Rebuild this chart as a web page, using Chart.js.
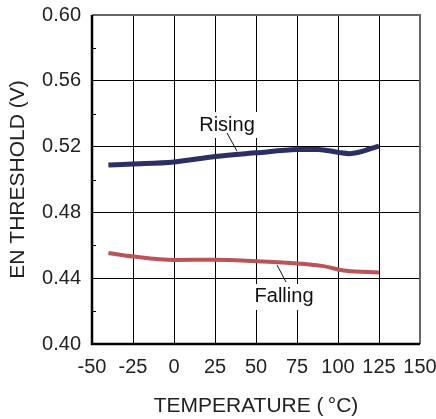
<!DOCTYPE html>
<html>
<head>
<meta charset="utf-8">
<script src="https://cdn.jsdelivr.net/npm/chart.js@4"></script>
<style>
  html, body { margin: 0; padding: 0; background: #fff; }
  #wrap { width: 436px; height: 419px; }
</style>
</head>
<body>
<div id="wrap"><canvas id="chart" width="436" height="419"></canvas></div>
<script>
// values
const risingTemp = [-40, -25, 0, 25, 50, 75, 88, 100, 107, 125];
const risingVolt = [0.5088, 0.5094, 0.5107, 0.5140, 0.5162, 0.5182, 0.5183, 0.5165, 0.5157, 0.5203];
const fallingTemp = [-40, -25, 0, 25, 50, 75, 90, 105, 125];
const fallingVolt = [0.4553, 0.4532, 0.4511, 0.4512, 0.4503, 0.4490, 0.4475, 0.4445, 0.4435];

const xTicks = [-50, -25, 0, 25, 50, 75, 100, 125, 150];
const yMin = 0.40, yMax = 0.60;

// curve labels: text position and leader line, in data units
const curveLabels = [
    { text: 'Rising', x: 32.3, y: 0.5331, from: [32.3, 0.5283], to: [38.4, 0.5173] },
    { text: 'Falling', x: 67.1, y: 0.4286, from: [68.3, 0.4377], to: [62.8, 0.4480] }
];

const font = 'Liberation Sans, Arial, Helvetica, sans-serif';

const toPoints = (xs, ys) => xs.map((x, i) => ({ x: x, y: ys[i] }));

// short tick marks at 0.02 steps, frame and curve labels
const extras = {
    id: 'extras',
    beforeDatasetsDraw(chart) {
        const { ctx, chartArea: a, scales: { x, y } } = chart;
        ctx.save();
        ctx.strokeStyle = '#000';
        ctx.lineWidth = 1;
        for (let v = 0.42; v < 0.60; v += 0.04) {
            const py = Math.round(y.getPixelForValue(v)) + 0.5;
            ctx.beginPath();
            ctx.moveTo(a.left, py);
            ctx.lineTo(a.left + 4, py);
            ctx.stroke();
        }
        // frame: grey top/right, black left/bottom
        ctx.lineWidth = 2;
        ctx.strokeStyle = '#666';
        ctx.beginPath();
        ctx.moveTo(a.left, a.top);
        ctx.lineTo(a.right, a.top);
        ctx.lineTo(a.right, a.bottom);
        ctx.stroke();
        ctx.strokeStyle = '#000';
        ctx.lineWidth = 2.5;
        ctx.beginPath();
        ctx.moveTo(a.left, a.top);
        ctx.lineTo(a.left, a.bottom);
        ctx.lineTo(a.right, a.bottom);
        ctx.stroke();

        ctx.font = '20px ' + font;
        ctx.textAlign = 'center';
        ctx.textBaseline = 'middle';
        curveLabels.forEach(l => {
            const px = x.getPixelForValue(l.x);
            const py = y.getPixelForValue(l.y);
            const w = ctx.measureText(l.text).width;
            ctx.fillStyle = '#fff';
            ctx.fillRect(px - w / 2 - 3, py - 13, w + 6, 26);
            ctx.fillStyle = '#111';
            ctx.fillText(l.text, px, py);
            ctx.strokeStyle = '#111';
            ctx.lineWidth = 1;
            ctx.beginPath();
            ctx.moveTo(x.getPixelForValue(l.from[0]), y.getPixelForValue(l.from[1]));
            ctx.lineTo(x.getPixelForValue(l.to[0]), y.getPixelForValue(l.to[1]));
            ctx.stroke();
        });
        ctx.restore();
    }
};

new Chart(document.getElementById('chart'), {
    type: 'line',
    data: {
        datasets: [
            {
                label: 'Rising',
                data: toPoints(risingTemp, risingVolt),
                borderColor: '#2b2f63',
                borderWidth: 5,
                pointRadius: 0,
                cubicInterpolationMode: 'monotone',
                fill: false
            },
            {
                label: 'Falling',
                data: toPoints(fallingTemp, fallingVolt),
                borderColor: '#bb5458',
                borderWidth: 4,
                pointRadius: 0,
                cubicInterpolationMode: 'monotone',
                fill: false
            }
        ]
    },
    options: {
        responsive: false,
        animation: false,
        layout: { padding: { top: 15, right: 16, left: 0, bottom: 0 } },
        plugins: {
            legend: { display: false },
            tooltip: { enabled: false }
        },
        scales: {
            x: {
                type: 'linear',
                min: -50,
                max: 150,
                afterBuildTicks: s => { s.ticks = xTicks.map(v => ({ value: v })); },
                afterFit: s => { s.height = 75; s.paddingRight = 0; s.paddingLeft = 0; },
                border: { display: false },
                grid: { color: '#000', lineWidth: 1, drawTicks: false },
                ticks: {
                    padding: 11,
                    color: '#222',
                    font: { family: font, size: 20 },
                    maxRotation: 0
                },
                title: {
                    display: true,
                    text: 'TEMPERATURE (\u2009°C)',
                    color: '#222',
                    font: { family: font, size: 21 },
                    padding: { top: 0, bottom: 0 }
                }
            },
            y: {
                min: yMin,
                max: yMax,
                afterFit: s => { s.width = 92; s.paddingTop = 0; s.paddingBottom = 0; },
                border: { display: false },
                grid: { color: '#000', lineWidth: 1, drawTicks: false },
                ticks: {
                    stepSize: 0.04,
                    padding: 11,
                    color: '#222',
                    font: { family: font, size: 20 },
                    callback: v => v.toFixed(2)
                },
                title: {
                    display: true,
                    text: 'EN THRESHOLD (V)',
                    color: '#222',
                    font: { family: font, size: 21 },
                    padding: { top: 6, bottom: 0 }
                }
            }
        }
    },
    plugins: [extras]
});
</script>
</body>
</html>
